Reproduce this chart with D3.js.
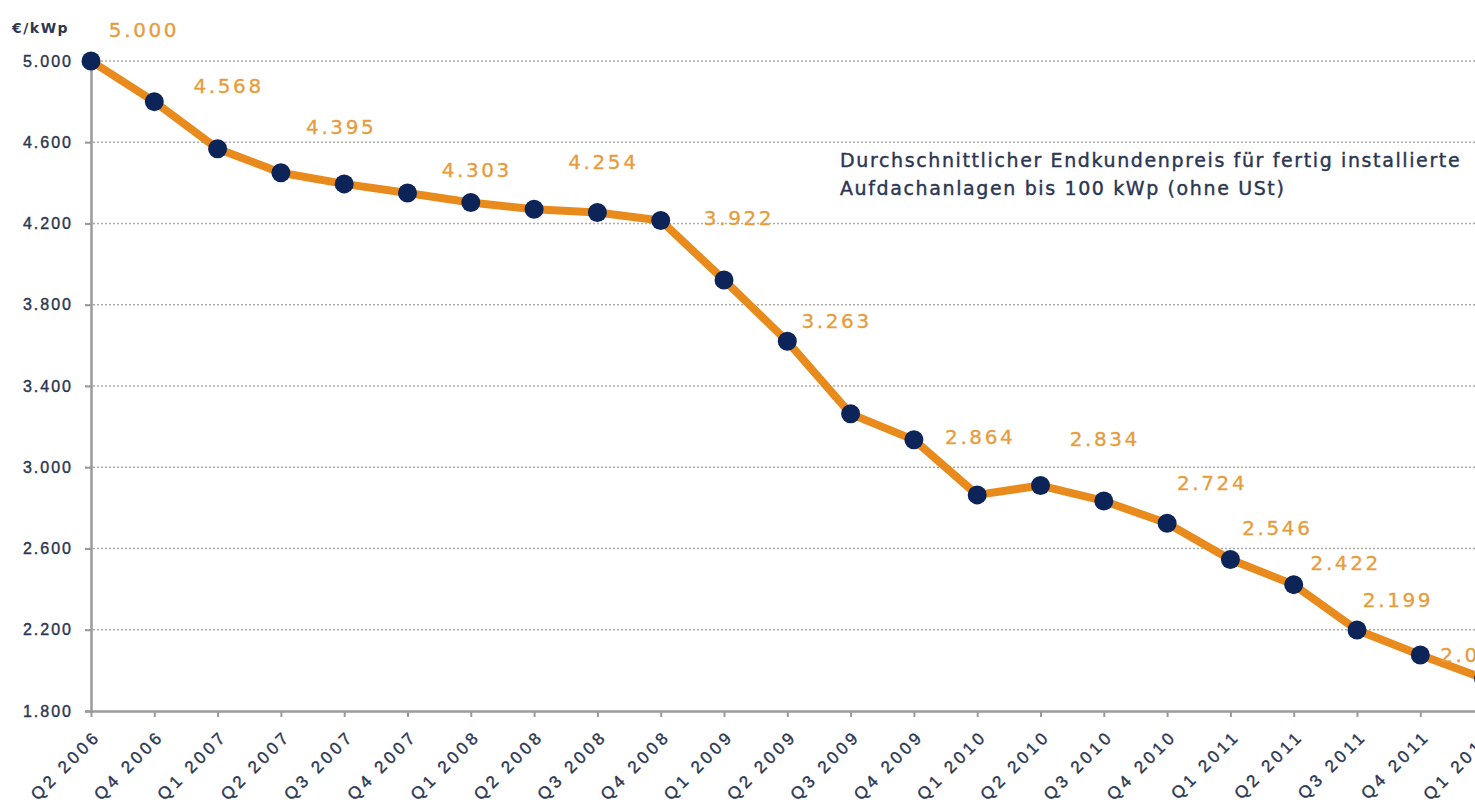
<!DOCTYPE html>
<html>
<head>
<meta charset="utf-8">
<script src="https://cdn.jsdelivr.net/npm/d3@7"></script>
<style>
  html, body { margin: 0; padding: 0; background: #fff; overflow: hidden; }
  svg { display: block; font-family: "DejaVu Sans", sans-serif; }
</style>
</head>
<body>
<svg id="chart" width="1475" height="809"></svg>
<script>
// Data
var quarters = ["Q2 2006", "Q4 2006", "Q1 2007", "Q2 2007", "Q3 2007", "Q4 2007",
  "Q1 2008", "Q2 2008", "Q3 2008", "Q4 2008", "Q1 2009", "Q2 2009", "Q3 2009",
  "Q4 2009", "Q1 2010", "Q2 2010", "Q3 2010", "Q4 2010", "Q1 2011", "Q2 2011",
  "Q3 2011", "Q4 2011", "Q1 2012"];
var prices = [5000, 4800, 4568, 4450, 4395, 4350, 4303, 4270, 4254, 4215, 3922,
  3620, 3263, 3135, 2864, 2910, 2834, 2724, 2546, 2422, 2199, 2076, 1960];
// which points carry a value label
var labelledQuarters = ["Q2 2006", "Q1 2007", "Q3 2007", "Q1 2008", "Q3 2008",
  "Q1 2009", "Q3 2009", "Q1 2010", "Q3 2010", "Q4 2010", "Q1 2011", "Q2 2011",
  "Q3 2011", "Q4 2011"];
var yTicks = [1800, 2200, 2600, 3000, 3400, 3800, 4200, 4600, 5000];
var unitLabel = "€/kWp";
var noteLines = ["Durchschnittlicher Endkundenpreis für fertig installierte",
  "Aufdachanlagen bis 100 kWp (ohne USt)"];

// label nudges (px) relative to the point, same order as labelledQuarters
var labelNudge = [[53, -31], [11, -63], [-3, -57], [6, -33], [6, -51], [15, -62],
  [-14, -93], [3, -58], [1, -62], [45, -41], [47, -32], [52, -22], [41, -30], [55, 0]];

var width = 1475;
var height = 809;
var margin = { top: 61, left: 91, bottom: 98 };
var step = 63.3;

var orange = "#e98a1c";
var labelOrange = "#e69c3c";
var navy = "#0c2458";
var textNavy = "#2b3651";

var fmt = function(v) {
  return d3.format(",")(v).replace(/,/g, ".");
};

var svg = d3.select("#chart");

var x = d3.scalePoint()
  .domain(quarters)
  .range([margin.left, margin.left + step * (quarters.length - 1)]);

var y = d3.scaleLinear()
  .domain([1800, 5000])
  .range([height - margin.bottom, margin.top]);

// grid
svg.append("g")
  .attr("class", "grid")
  .selectAll("line")
  .data(yTicks.slice(1))
  .enter()
  .append("line")
  .attr("x1", margin.left - 6)
  .attr("x2", width)
  .attr("y1", function(d) { return y(d); })
  .attr("y2", function(d) { return y(d); })
  .attr("stroke", "#a9a9a9")
  .attr("stroke-width", 1.5)
  .attr("stroke-dasharray", "2,2");

// y axis
var yAxis = svg.append("g")
  .attr("transform", "translate(" + margin.left + ",0)")
  .call(d3.axisLeft(y).tickValues(yTicks).tickSize(6).tickPadding(12).tickFormat(fmt));
yAxis.select(".domain").attr("stroke", "#9a9a9a").attr("stroke-width", 2.5);
yAxis.selectAll(".tick line").attr("stroke", "#9a9a9a").attr("stroke-width", 2);
yAxis.selectAll(".tick text")
  .attr("fill", textNavy)
  .attr("stroke", textNavy)
  .attr("stroke-width", 0.4)
  .style("font-size", "16px")
  .style("letter-spacing", "2px");

// x axis
var xAxis = svg.append("g")
  .attr("transform", "translate(0," + y(1800) + ")")
  .call(d3.axisBottom(x).tickSize(6).tickSizeOuter(0));
xAxis.select(".domain").attr("stroke", "#9a9a9a").attr("stroke-width", 2.5);
xAxis.selectAll(".tick line").attr("stroke", "#9a9a9a").attr("stroke-width", 2);
xAxis.selectAll(".tick text")
  .attr("fill", textNavy)
  .attr("stroke", textNavy)
  .attr("stroke-width", 0.4)
  .attr("text-anchor", "end")
  .attr("x", 0)
  .attr("y", 0)
  .attr("dy", "0.35em")
  .attr("transform", "translate(6,22) rotate(-45)")
  .style("font-size", "17px")
  .style("letter-spacing", "3.6px");

// unit label
svg.append("text")
  .attr("x", 12)
  .attr("y", 33)
  .attr("fill", textNavy)
  .style("font-size", "14px")
  .style("font-weight", "bold")
  .style("letter-spacing", "1.5px")
  .text(unitLabel);

// line
var line = d3.line()
  .x(function(d, i) { return x(quarters[i]); })
  .y(function(d) { return y(d); });

svg.append("path")
  .datum(prices)
  .attr("d", line)
  .attr("fill", "none")
  .attr("stroke", orange)
  .attr("stroke-width", 8)
  .attr("stroke-linejoin", "round");

// dots
svg.append("g")
  .selectAll("circle")
  .data(prices)
  .enter()
  .append("circle")
  .attr("cx", function(d, i) { return x(quarters[i]); })
  .attr("cy", function(d) { return y(d); })
  .attr("r", 9.5)
  .attr("fill", navy);

// value labels
svg.append("g")
  .selectAll("text")
  .data(labelledQuarters)
  .enter()
  .append("text")
  .attr("x", function(q, i) { return x(q) + labelNudge[i][0]; })
  .attr("y", function(q, i) { return y(prices[quarters.indexOf(q)]) + labelNudge[i][1]; })
  .attr("text-anchor", "middle")
  .attr("dy", "0.36em")
  .attr("fill", labelOrange)
  .attr("stroke", labelOrange)
  .attr("stroke-width", 0.3)
  .style("font-size", "20px")
  .style("letter-spacing", "2.6px")
  .text(function(q) { return fmt(prices[quarters.indexOf(q)]); });

// note
svg.append("g")
  .selectAll("text")
  .data(noteLines)
  .enter()
  .append("text")
  .attr("x", 840)
  .attr("y", function(d, i) { return 167 + i * 28; })
  .attr("fill", textNavy)
  .attr("stroke", textNavy)
  .attr("stroke-width", 0.4)
  .style("font-size", "19px")
  .style("letter-spacing", "1.62px")
  .text(function(d) { return d; });
</script>
</body>
</html>
